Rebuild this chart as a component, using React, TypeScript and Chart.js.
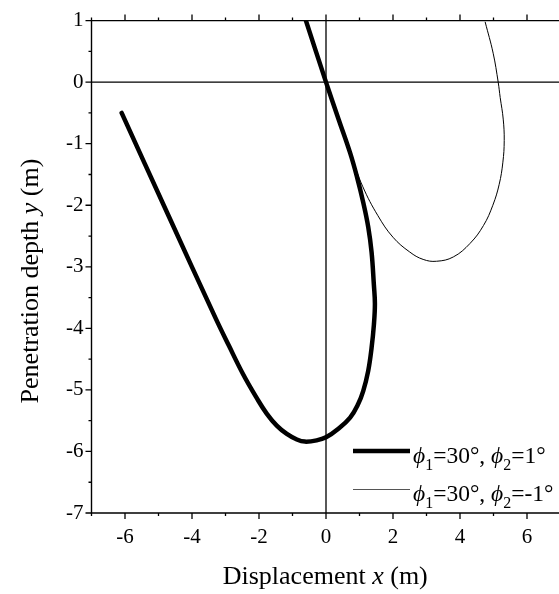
import React, { useEffect, useRef } from "react";
import { Chart, registerables } from "chart.js";

Chart.register(...registerables);

// Data (x = displacement m, y = penetration depth m)
const thickX = [-6.1, -4.7, -3.3, -2.9, -2.47, -2.07, -1.77, -1.47, -1.17, -0.87, -0.63, -0.28, 0, 0.37, 0.72, 0.96, 1.11, 1.26, 1.36, 1.43, 1.46, 1.43, 1.36, 1.26, 1.11, 0.93, 0.72, 0.38, 0, -0.6];
const thickY = [-0.5, -2.17, -3.83, -4.28, -4.75, -5.13, -5.385, -5.58, -5.715, -5.805, -5.84, -5.82, -5.77, -5.63, -5.45, -5.23, -5.02, -4.69, -4.32, -3.94, -3.6, -3.3, -2.76, -2.35, -1.95, -1.55, -1.15, -0.61, 0, 1.0];

const thinX = [0, 0.38, 0.72, 1.1, 1.55, 2.0, 2.5, 2.9, 3.3, 3.8, 4.3, 4.7, 4.98, 5.17, 5.28, 5.32, 5.29, 5.2, 5.14, 4.99, 4.75];
const thinY = [0, -0.61, -1.15, -1.7, -2.17, -2.52, -2.76, -2.88, -2.91, -2.84, -2.62, -2.33, -2.0, -1.66, -1.3, -0.95, -0.6, -0.25, 0, 0.47, 0.98];

const xTickLabels = [-6, -4, -2, 0, 2, 4, 6];
const yTickLabels = [-7, -6, -5, -4, -3, -2, -1, 0, 1];
const legendLabels = [
  [{ t: "\u03D5", i: true }, { t: "1", s: true }, { t: "=30\u00B0, " }, { t: "\u03D5", i: true }, { t: "2", s: true }, { t: "=1\u00B0" }],
  [{ t: "\u03D5", i: true }, { t: "1", s: true }, { t: "=30\u00B0, " }, { t: "\u03D5", i: true }, { t: "2", s: true }, { t: "=-1\u00B0" }],
];

const FONT = "'Liberation Serif', 'Times New Roman', serif";

type Seg = { t: string; i?: boolean; s?: boolean };

function drawRich(ctx: CanvasRenderingContext2D, segs: Seg[], x: number, y: number, size: number) {
  let cx = x;
  for (const sg of segs) {
    const sz = sg.s ? size * 0.68 : size;
    ctx.font = `${sg.i ? "italic " : ""}${sz}px ${FONT}`;
    ctx.fillText(sg.t, cx, sg.s ? y + size * 0.3 : y);
    cx += ctx.measureText(sg.t).width;
  }
  return cx - x;
}

function richWidth(ctx: CanvasRenderingContext2D, segs: Seg[], size: number) {
  let w = 0;
  for (const sg of segs) {
    const sz = sg.s ? size * 0.68 : size;
    ctx.font = `${sg.i ? "italic " : ""}${sz}px ${FONT}`;
    w += ctx.measureText(sg.t).width;
  }
  return w;
}

const decorPlugin = {
  id: "decor",
  afterDatasetsDraw(chart: any) {
    const ctx: CanvasRenderingContext2D = chart.ctx;
    const { left, right, top, bottom } = chart.chartArea;
    const xs = chart.scales.x;
    const ys = chart.scales.y;
    ctx.save();
    ctx.strokeStyle = "#000";
    ctx.fillStyle = "#000";
    ctx.lineWidth = 1.4;
    // frame
    ctx.beginPath();
    ctx.moveTo(left, top);
    ctx.lineTo(right, top);
    ctx.lineTo(right, bottom);
    ctx.lineTo(left, bottom);
    ctx.closePath();
    ctx.stroke();
    // zero lines
    ctx.lineWidth = 1.3;
    const x0 = xs.getPixelForValue(0);
    const y0 = ys.getPixelForValue(0);
    ctx.beginPath();
    ctx.moveTo(x0, top);
    ctx.lineTo(x0, bottom);
    ctx.moveTo(left, y0);
    ctx.lineTo(right, y0);
    ctx.stroke();
    // ticks
    ctx.lineWidth = 1.3;
    ctx.beginPath();
    for (let v = -7; v <= 7; v++) {
      const px = xs.getPixelForValue(v);
      const len = v % 2 === 0 ? 6 : 3;
      ctx.moveTo(px, bottom);
      ctx.lineTo(px, bottom + len);
      ctx.moveTo(px, top);
      ctx.lineTo(px, top - len);
    }
    for (let v = -7; v <= 1; v += 0.5) {
      const py = ys.getPixelForValue(v);
      const len = Number.isInteger(v) ? 6 : 3;
      ctx.moveTo(left, py);
      ctx.lineTo(left - len, py);
      ctx.moveTo(right, py);
      ctx.lineTo(right + len, py);
    }
    ctx.stroke();

    // legend
    const lx1 = 353, lx2 = 410;
    ctx.lineWidth = 4.5;
    ctx.beginPath();
    ctx.moveTo(lx1, 451);
    ctx.lineTo(lx2, 451);
    ctx.stroke();
    ctx.lineWidth = 1;
    ctx.strokeStyle = "#555";
    ctx.beginPath();
    ctx.moveTo(lx1, 489.5);
    ctx.lineTo(lx2, 489.5);
    ctx.stroke();
    ctx.textAlign = "left";
    ctx.textBaseline = "alphabetic";
    drawRich(ctx, legendLabels[0] as Seg[], 413, 463, 23.5);
    drawRich(ctx, legendLabels[1] as Seg[], 413, 501, 23.5);

    // axis titles
    const tsize = 26;
    const xt: Seg[] = [{ t: "Displacement " }, { t: "x", i: true }, { t: " (m)" }];
    const wx = richWidth(ctx, xt, tsize);
    drawRich(ctx, xt, (left + 561) / 2 - wx / 2 - 1, 584, tsize);
    const yt: Seg[] = [{ t: "Penetration depth " }, { t: "y", i: true }, { t: " (m)" }];
    const wy = richWidth(ctx, yt, tsize);
    ctx.translate(38, 281);
    ctx.rotate(-Math.PI / 2);
    drawRich(ctx, yt, -wy / 2, 0, tsize);
    ctx.restore();
  },
};

export default function App() {
  const ref = useRef<HTMLCanvasElement | null>(null);
  useEffect(() => {
    if (!ref.current) return;
    const chart = new Chart(ref.current, {
      type: "line",
      data: {
        datasets: [
          {
            data: thickX.map((x, i) => ({ x, y: thickY[i] })),
            borderColor: "#000",
            borderWidth: 4.5,
            pointRadius: 0,
            tension: 0.4,
            cubicInterpolationMode: "default",
            borderCapStyle: "round",
            borderJoinStyle: "round",
            fill: false,
          },
          {
            data: thinX.map((x, i) => ({ x, y: thinY[i] })),
            borderColor: "#000",
            borderWidth: 1,
            pointRadius: 0,
            tension: 0.4,
            cubicInterpolationMode: "default",
            fill: false,
          },
        ],
      },
      options: {
        animation: false,
        responsive: false,
        devicePixelRatio: 1,
        layout: { padding: { top: 16.7, right: 5.5, left: 0, bottom: 0 } },
        plugins: { legend: { display: false }, tooltip: { enabled: false } },
        elements: { line: { capBezierPoints: false } },
        scales: {
          x: {
            type: "linear",
            min: -7,
            max: 7,
            grid: { display: false, drawTicks: false },
            border: { display: false },
            afterFit: (s: any) => { s.height = 81; },
            afterBuildTicks: (s: any) => { s.ticks = xTickLabels.map((v) => ({ value: v })); },
            ticks: { color: "#000", padding: 12, font: { family: FONT, size: 21 }, maxRotation: 0, autoSkip: false },
          },
          y: {
            type: "linear",
            min: -7,
            max: 1,
            grid: { display: false, drawTicks: false },
            border: { display: false },
            afterFit: (s: any) => { s.width = 91.5; },
            afterBuildTicks: (s: any) => { s.ticks = yTickLabels.map((v) => ({ value: v })); },
            ticks: { color: "#000", padding: 8, font: { family: FONT, size: 21 }, autoSkip: false },
          },
        },
      },
      plugins: [decorPlugin],
    } as any);
    return () => chart.destroy();
  }, []);
  return (
    <div style={{ position: "absolute", left: 0, top: 0, width: 559, height: 594, overflow: "hidden", background: "#fff" }}>
      <canvas ref={ref} width={566} height={594} style={{ display: "block" }} />
    </div>
  );
}
